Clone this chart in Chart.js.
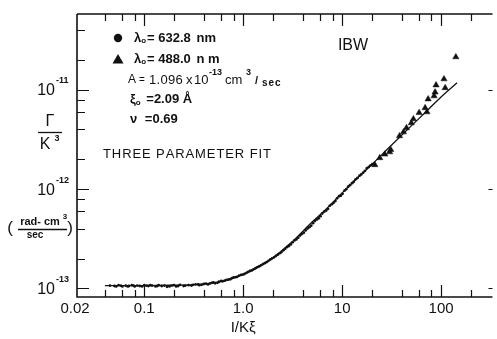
<!DOCTYPE html>
<html><head><meta charset="utf-8">
<script src="https://cdn.jsdelivr.net/npm/chart.js@4/dist/chart.umd.min.js"></script>
<style>html,body{margin:0;padding:0;background:#fff}#w{width:497px;height:339px;position:relative}</style>
</head><body><div id="w"><canvas id="c"></canvas></div>
<script>
// 1/(K xi) values and Gamma/K^3 (rad cm^3/sec) for lambda0 = 632.8 nm (dots)
const dotX = [0.05,0.055,0.06,0.065,0.07,0.075,0.08,0.085,0.09,0.1,0.11,0.12,0.13,0.14,0.15,0.17,0.19,0.21,0.23,0.25,0.28,0.3,0.33,0.36,0.4,0.44,0.48,0.52,0.57,0.62,0.68,0.74,0.8,0.87,0.95,1.03,1.12,1.22,1.33,1.45,1.58,1.72,1.88,2.05,2.24,2.44,2.66,2.9,3.16,3.45,3.76,4.1,4.47,4.87,5.3,5.8,6.3,6.9,7.5,8.2,8.9,9.7,10.6,11.5,12.6,13.7,15,16.3,17.8,19.4];
const dotY = [1.06e-13,1.08e-13,1.05e-13,1.07e-13,1.06e-13,1.08e-13,1.05e-13,1.07e-13,1.06e-13,1.08e-13,1.06e-13,1.07e-13,1.05e-13,1.08e-13,1.06e-13,1.04e-13,1.07e-13,1.05e-13,1.09e-13,1.06e-13,1.08e-13,1.07e-13,1.10e-13,1.08e-13,1.11e-13,1.10e-13,1.14e-13,1.13e-13,1.17e-13,1.18e-13,1.22e-13,1.24e-13,1.29e-13,1.31e-13,1.37e-13,1.40e-13,1.47e-13,1.52e-13,1.60e-13,1.67e-13,1.76e-13,1.84e-13,1.96e-13,2.06e-13,2.19e-13,2.33e-13,2.52e-13,2.68e-13,2.92e-13,3.12e-13,3.42e-13,3.65e-13,4.02e-13,4.30e-13,4.78e-13,5.10e-13,5.70e-13,6.10e-13,6.80e-13,7.30e-13,8.10e-13,8.60e-13,9.70e-13,1.06e-12,1.15e-12,1.26e-12,1.37e-12,1.47e-12,1.63e-12,1.74e-12];
const dotX2 = [0.045,0.052,0.058,0.068,0.078,0.095,0.105,0.115,0.135,0.16,0.18,0.2,0.22,0.26,0.31,0.35,0.38,0.42,0.46,0.5,0.55,0.6,0.65,0.71,0.77,0.84,0.91,0.99,1.08,1.17,1.27,1.39,1.51,1.65,1.8,1.96,2.14,2.34,2.55,2.78,3.03,3.3,3.6,3.93,4.28,4.67,5.08,5.55,6.05,6.6,7.2,7.85,8.55,9.3,10.1,11.0,12.0,13.1,14.3,15.6,17.0,18.6,20.2];
const dotY2 = [1.07e-13,1.05e-13,1.07e-13,1.05e-13,1.07e-13,1.05e-13,1.07e-13,1.08e-13,1.06e-13,1.07e-13,1.05e-13,1.08e-13,1.06e-13,1.07e-13,1.09e-13,1.10e-13,1.09e-13,1.12e-13,1.12e-13,1.15e-13,1.14e-13,1.19e-13,1.20e-13,1.23e-13,1.27e-13,1.30e-13,1.35e-13,1.38e-13,1.44e-13,1.50e-13,1.56e-13,1.64e-13,1.71e-13,1.80e-13,1.90e-13,2.01e-13,2.13e-13,2.26e-13,2.43e-13,2.62e-13,2.78e-13,3.05e-13,3.25e-13,3.55e-13,3.85e-13,4.15e-13,4.55e-13,4.95e-13,5.35e-13,5.95e-13,6.35e-13,7.05e-13,7.60e-13,8.50e-13,9.00e-13,1.00e-12,1.10e-12,1.19e-12,1.30e-12,1.41e-12,1.53e-12,1.68e-12,1.79e-12];
// lambda0 = 488.0 nm (triangles)
const triX = [21.4,24,27,30.2,31,38,41.7,44.7,50,52.5,60,69,72,74,85,87,89,107,110,141];
const triY = [1.76e-12,2.07e-12,2.25e-12,2.37e-12,2.5e-12,3.44e-12,3.77e-12,4.15e-12,4.65e-12,5.1e-12,5.9e-12,6.6e-12,6.0e-12,8.1e-12,8.7e-12,9.5e-12,1.12e-11,1.29e-11,1.05e-11,2.15e-11];
// three parameter fit curve
const fitX = [0.04,0.1,0.2,0.3,0.5,0.7,1,1.5,2,3,5,7,10,15,20,30,50,70,100,145];
const fitY = [1.07e-13,1.07e-13,1.08e-13,1.09e-13,1.14e-13,1.23e-13,1.39e-13,1.70e-13,2.04e-13,2.85e-13,4.7e-13,6.4e-13,9.2e-13,1.36e-12,1.78e-12,2.65e-12,4.35e-12,6.0e-12,8.5e-12,1.18e-11];
// axis ticks
const xTickValues = [0.02,0.1,1,10,100];
const xTickLabels = ['0.02','0.1','1.0','10','100'];
const xMinorTicks = [0.04,0.06,0.08,0.2,0.4,0.6,0.8,2,4,6,8,20,40,60,80,200];
const yTickValues = [1e-11,1e-12,1e-13];
const yTickExponents = ['-11','-12','-13'];
const yMinorTicks = [2e-13,4e-13,6e-13,8e-13,2e-12,4e-12,6e-12,8e-12,2e-11,4e-11];

const F = 'Liberation Sans, Arial, sans-serif';
const toPts = (xs, ys) => xs.map((x, i) => ({x, y: ys[i]}));

const decor = {
  id: 'decor',
  afterDraw(chart) {
    const {ctx, chartArea: a, scales: {x, y}} = chart;
    ctx.save();
    ctx.strokeStyle = '#111'; ctx.fillStyle = '#111';
    // frame (right axis lies just beyond the picture edge)
    ctx.lineWidth = 1.6;
    ctx.beginPath();
    ctx.moveTo(a.left, a.top); ctx.lineTo(a.left, a.bottom); ctx.lineTo(a.right, a.bottom);
    ctx.moveTo(a.left, a.top); ctx.lineTo(a.right, a.top);
    ctx.stroke();
    // ticks
    ctx.lineWidth = 1.2;
    ctx.beginPath();
    const xt = (v, len) => { const p = Math.round(x.getPixelForValue(v)) + 0.5;
      ctx.moveTo(p, a.bottom); ctx.lineTo(p, a.bottom - len);
      ctx.moveTo(p, a.top); ctx.lineTo(p, a.top + len); };
    const yt = (v, len, rlen) => { const p = Math.round(y.getPixelForValue(v)) + 0.5;
      ctx.moveTo(a.left, p); ctx.lineTo(a.left + len, p);
      if (rlen) { ctx.moveTo(a.right, p); ctx.lineTo(a.right - rlen, p); } };
    xTickValues.forEach(v => { if (v > x.min) xt(v, 12); });
    xMinorTicks.forEach(v => { if (v > x.min && v < x.max) xt(v, 7); });
    yTickValues.forEach(v => yt(v, 12, 4));
    yMinorTicks.forEach(v => { if (v > y.min && v < y.max) yt(v, 8, 0); });
    ctx.stroke();
    // x tick labels
    ctx.textBaseline = 'middle'; ctx.textAlign = 'center';
    ctx.font = '15px ' + F;
    xTickValues.forEach((v, i) => ctx.fillText(xTickLabels[i], x.getPixelForValue(v), 309));
    // x title
    ctx.font = '15px ' + F;
    ctx.fillText('I/Kξ', x.getPixelForValue(1.0), 328);
    // y tick labels 10^n
    yTickValues.forEach((v, i) => {
      const p = y.getPixelForValue(v);
      ctx.textAlign = 'right'; ctx.font = '16px ' + F;
      ctx.fillText('10', 55, p + 1);
      ctx.textAlign = 'left'; ctx.font = 'bold 9px ' + F;
      ctx.fillText(yTickExponents[i], 56, p - 9);
    });
    // y title Gamma / K^3
    ctx.textAlign = 'center'; ctx.font = '16px ' + F;
    ctx.fillText('Γ', 50, 122);
    ctx.lineWidth = 1.3;
    ctx.beginPath(); ctx.moveTo(38, 132.5); ctx.lineTo(62, 132.5); ctx.stroke();
    ctx.fillText('K', 45, 145);
    ctx.font = 'bold 9px ' + F; ctx.fillText('3', 57, 139);
    // units
    ctx.font = '17px ' + F;
    ctx.fillText('(', 10, 228); ctx.fillText(')', 70, 228);
    ctx.font = 'bold 11px ' + F;
    ctx.fillText('rad- cm', 40, 222);
    ctx.font = 'bold 8px ' + F; ctx.fillText('3', 65, 217);
    ctx.beginPath(); ctx.moveTo(18, 229.5); ctx.lineTo(67, 229.5); ctx.stroke();
    ctx.font = 'bold 10px ' + F; ctx.fillText('sec', 35, 235);
    // legend markers
    ctx.beginPath(); ctx.arc(118, 38, 4.2, 0, Math.PI * 2); ctx.fill();
    ctx.beginPath(); ctx.moveTo(118, 54); ctx.lineTo(123.5, 63.5); ctx.lineTo(112.5, 63.5); ctx.closePath(); ctx.fill();
    // legend texts
    const run = (parts, x0, yc) => {
      let cx = x0;
      parts.forEach(([t, font, dy, dx]) => {
        ctx.font = font; ctx.textAlign = 'left';
        cx += (dx || 0);
        ctx.fillText(t, cx, yc + (dy || 0));
        cx += ctx.measureText(t).width;
      });
    };
    const at = (parts, yc) => parts.forEach(([t, font, px, dy, ls]) => {
      ctx.font = font; ctx.textAlign = 'left'; ctx.letterSpacing = ls || '0px';
      ctx.fillText(t, px, yc + (dy || 0)); ctx.letterSpacing = '0px'; });
    const B = 'bold 13px ' + F, S = 'bold 8px ' + F, N = '13px ' + F;
    run([['λ', B], ['o', S, 3], ['=', B, 0, 1], [' 632.8', B], [' nm', B, 0, 2]], 134, 38);
    run([['λ', B], ['o', S, 3], ['=', B, 0, 1], [' 488.0', B], [' n m', B, 0, 2]], 134, 59);
    at([['A', '12px ' + F, 128], ['=', '10px ' + F, 139], ['1.096', N, 149, 0, '0.3px'], ['x', N, 186], ['10', N, 194],
        ['-13', 'bold 9px ' + F, 209, -7], ['cm', N, 225], ['3', 'bold 9px ' + F, 246, -7],
        ['/', 'bold 11px ' + F, 255, 1], ['sec', 'bold 10px ' + F, 262, 3, '1px']], 80);
    run([['ξ', B], ['o', S, 4], [' =2.09 Å', B, 0, 2]], 130, 99);
    run([['ν', B], [' =0.69', B, 0, 4]], 130, 119);
    // THREE PARAMETER FIT
    ctx.font = '13px ' + F; ctx.textAlign = 'left';
    const title = 'THREE PARAMETER FIT';
    const w0 = ctx.measureText(title).width;
    const gap = (167 - w0) / (title.length - 1);
    let tx = 103;
    for (const ch of title) { ctx.fillText(ch, tx, 154); tx += ctx.measureText(ch).width + gap; }
    // IBW
    ctx.font = '16px ' + F; ctx.textAlign = 'center';
    ctx.fillText('IBW', 353, 46);
    ctx.restore();
  }
};

new Chart(document.getElementById('c'), {
  type: 'scatter',
  data: { datasets: [
    { label: 'fit', data: toPts(fitX, fitY), showLine: true, borderColor: '#111', borderWidth: 1.3,
      pointRadius: 0, cubicInterpolationMode: 'monotone', fill: false },
    { label: '632.8 nm', data: toPts(dotX, dotY).concat(toPts(dotX2, dotY2)), pointRadius: 1.4,
      pointBackgroundColor: '#111', borderColor: '#111', pointBorderWidth: 0 },
    { label: '488.0 nm', data: toPts(triX, triY), pointStyle: 'triangle', pointRadius: 3.6,
      pointBackgroundColor: '#111', borderColor: '#111', pointBorderWidth: 0.5 }
  ]},
  options: {
    responsive: true, maintainAspectRatio: false, animation: false,
    devicePixelRatio: 1,
    layout: { padding: { left: 77, top: 14, right: 0, bottom: 42 } },
    plugins: { legend: { display: false }, tooltip: { enabled: false } },
    scales: {
      x: { type: 'logarithmic', min: 0.0209, max: 331, display: false },
      y: { type: 'logarithmic', min: 8.21e-14, max: 5.83e-11, display: false }
    }
  },
  plugins: [decor]
});
</script>
</body></html>
